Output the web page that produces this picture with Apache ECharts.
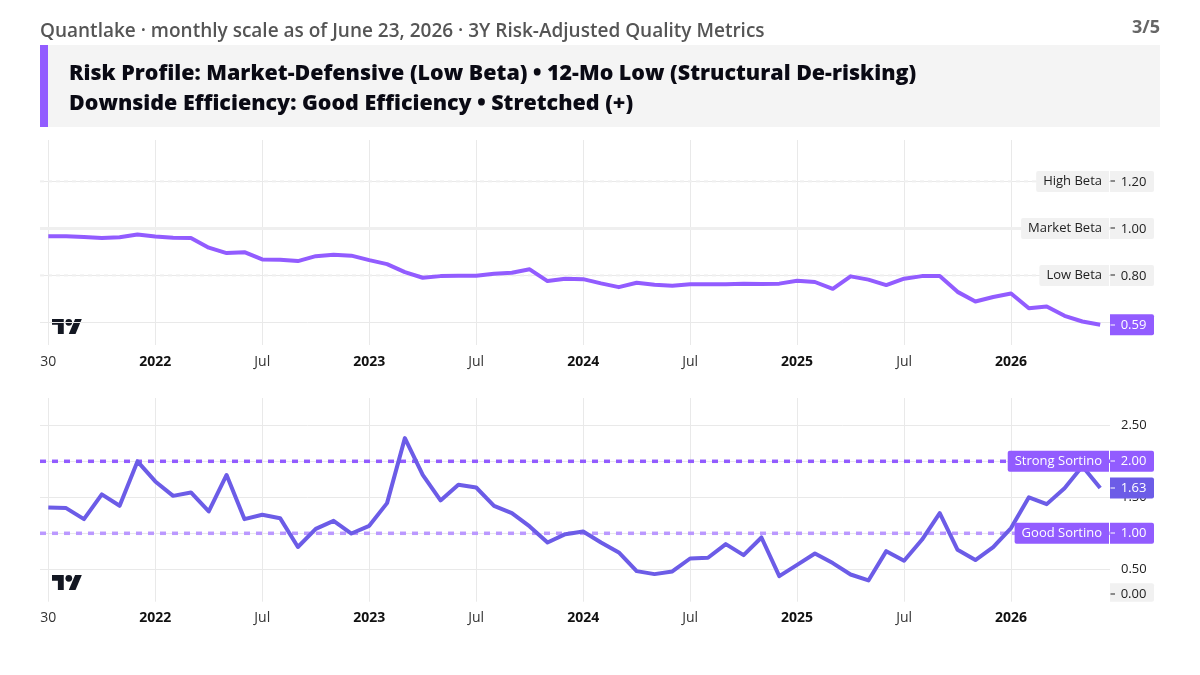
<!DOCTYPE html>
<html>
<head>
<meta charset="utf-8">
<style>
  html, body { margin: 0; padding: 0; background: #fff; }
  #chart { width: 1200px; height: 675px; }
</style>
<script src="https://cdn.jsdelivr.net/npm/echarts@6/dist/echarts.min.js"></script>
</head>
<body>
<div id="chart"></div>
<script>
// Monthly readings, July 2021 to June 2026
const betaValues = [
  0.967, 0.967, 0.963, 0.959, 0.962, 0.974, 0.966, 0.960, 0.959, 0.918,
  0.895, 0.899, 0.868, 0.867, 0.861, 0.882, 0.888, 0.884, 0.865, 0.848,
  0.814, 0.790, 0.797, 0.799, 0.799, 0.807, 0.811, 0.826, 0.776, 0.786,
  0.784, 0.766, 0.750, 0.769, 0.760, 0.756, 0.762, 0.762, 0.762, 0.765,
  0.763, 0.765, 0.777, 0.772, 0.743, 0.796, 0.782, 0.759, 0.786, 0.797,
  0.797, 0.730, 0.689, 0.708, 0.723, 0.660, 0.668, 0.628, 0.604, 0.59
];
const sortinoValues = [
  1.358, 1.350, 1.197, 1.540, 1.382, 1.998, 1.720, 1.520, 1.567, 1.303,
  1.810, 1.197, 1.257, 1.210, 0.810, 1.062, 1.173, 0.997, 1.104, 1.419,
  2.322, 1.810, 1.456, 1.674, 1.636, 1.382, 1.280, 1.095, 0.873, 0.988,
  1.025, 0.873, 0.734, 0.475, 0.433, 0.470, 0.650, 0.660, 0.850, 0.697,
  0.942, 0.405, 0.562, 0.720, 0.586, 0.428, 0.345, 0.752, 0.618, 0.910,
  1.280, 0.771, 0.628, 0.808, 1.072, 1.500, 1.405, 1.627, 1.930, 1.63
];

const tickIndexes = [0, 6, 12, 18, 24, 30, 36, 42, 48, 54];
const tickLabels = ['30', '2022', 'Jul', '2023', 'Jul', '2024', 'Jul', '2025', 'Jul', '2026'];

const betaTicks = [0.6, 0.8, 1.0, 1.2];
const sortinoTicks = [0.5, 1.0, 1.5, 2.0, 2.5];

const betaLevels = [1.2, 1.0, 0.8];
const betaLevelNames = ['High Beta', 'Market Beta', 'Low Beta'];
const sortinoLevels = [2.0, 1.0, 0.0];
const sortinoLevelNames = ['Strong Sortino', 'Good Sortino', ''];

const headerText = 'Quantlake · monthly scale as of June 23, 2026 · 3Y Risk-Adjusted Quality Metrics';
const pageText = '3/5';
const titleLines = [
  'Risk Profile: Market-Defensive (Low Beta) • 12-Mo Low (Structural De-risking)',
  'Downside Efficiency: Good Efficiency • Stretched (+)'
];

const PURPLE = '#925cff';
const PURPLE_SOFT = '#bb99ff';
const INDIGO = '#6c5ce7';
const GREY_TAG = '#f1f1f1';
const GRID = '#e9e9e9';
const FONT = '"Open Sans", "Noto Sans", sans-serif';

const X_MIN = -0.466;
const X_MAX = 59.55;

const chart = echarts.init(document.getElementById('chart'));

function xAxisFor(gridIndex, margin) {
  return {
    type: 'value', gridIndex, min: X_MIN, max: X_MAX,
    axisLine: { show: false },
    axisTick: { show: false, customValues: tickIndexes },
    splitLine: { show: true, lineStyle: { color: GRID, width: 1 } },
    axisLabel: {
      customValues: tickIndexes,
      margin,
      fontFamily: FONT, fontSize: 14, color: '#333',
      formatter: v => {
        const t = tickLabels[tickIndexes.indexOf(v)];
        return /^\d{4}$/.test(t) ? '{y|' + t + '}' : t;
      },
      rich: { y: { fontFamily: FONT, fontSize: 14, fontWeight: 700, color: '#111' } }
    }
  };
}

function yAxisFor(gridIndex, min, max, ticks) {
  return {
    type: 'value', gridIndex, min, max, position: 'right',
    axisLine: { show: false },
    axisTick: { show: false, customValues: ticks },
    splitLine: { show: true, lineStyle: { color: GRID, width: 1 } },
    axisLabel: {
      customValues: ticks, margin: 11, padding: [2, 0, 0, 0],
      fontFamily: FONT, fontSize: 13, color: '#222',
      formatter: v => v.toFixed(2)
    }
  };
}

// Horizontal reference level running across the whole pane
function levelSeries(axisIndex, value, style) {
  return {
    type: 'line', xAxisIndex: axisIndex, yAxisIndex: axisIndex, z: 1,
    symbol: 'none', silent: true, animation: false,
    data: [[X_MIN, value], [X_MAX, value]],
    lineStyle: style
  };
}

function curveSeries(axisIndex, values, color) {
  return {
    type: 'line', xAxisIndex: axisIndex, yAxisIndex: axisIndex, z: 3,
    symbol: 'none', silent: true, animation: false,
    data: values.map((v, i) => [i, v]),
    lineStyle: { color, width: 4, join: 'round', cap: 'butt' }
  };
}

// Price-scale badges: value box on the scale, optional name box beside it
function tagSeries(axisIndex, tags) {
  return {
    type: 'custom', xAxisIndex: axisIndex, yAxisIndex: axisIndex, z: 10,
    silent: true, animation: false, clip: false,
    data: tags.map(t => [X_MAX, t.value]),
    renderItem(params, api) {
      const tag = tags[params.dataIndex];
      const sys = params.coordSys;
      const left = sys.x + sys.width;
      const paneBottom = sys.y + sys.height;
      const y = Math.min(api.coord([X_MAX, api.value(1)])[1], paneBottom - 8);
      const top = y - 10.5;
      const h = Math.min(21, paneBottom - top);
      const children = [
        { type: 'rect', shape: { x: left, y: top, width: 44, height: h, r: [0, 2, 2, 0] }, style: { fill: tag.bg } },
        { type: 'rect', shape: { x: left + 0.5, y: Math.round(y) - 0.5, width: 4.5, height: 1 }, style: { fill: tag.fg } },
        { type: 'text', style: { text: tag.value.toFixed(2), x: left + 23.5, y: y + 0.5, align: 'center', verticalAlign: 'middle', fill: tag.fg, font: '13px ' + FONT } }
      ];
      if (tag.name) {
        children.unshift({
          type: 'text',
          style: {
            text: tag.name, x: left - 1, y: y, align: 'right', verticalAlign: 'middle',
            fill: tag.fg, font: '13px ' + FONT, backgroundColor: tag.bg,
            padding: [3, 7, 3, 7], lineHeight: 15, borderRadius: [2, 0, 0, 2]
          }
        });
      }
      return { type: 'group', children };
    }
  };
}

// Small brand mark in the lower-left corner of each pane
function logo(y) {
  const fill = '#131722';
  return {
    type: 'group', x: 52, y, scaleX: 0.84, scaleY: 0.84, silent: true, z: 20,
    children: [
      { type: 'polygon', shape: { points: [[0, 4], [14, 4], [14, 22], [7, 22], [7, 11], [0, 11]] }, style: { fill } },
      { type: 'polygon', shape: { points: [[20, 22], [27.5, 4], [35.5, 4], [28, 22]] }, style: { fill } },
      { type: 'circle', shape: { cx: 20, cy: 8, r: 4 }, style: { fill } }
    ]
  };
}

const option = {
  animation: false,
  backgroundColor: '#ffffff',
  grid: [
    { left: 40, right: 90, top: 140, height: 205 },
    { left: 40, right: 90, top: 398, height: 203.7 }
  ],
  xAxis: [xAxisFor(0, 10.5), xAxisFor(1, 9)],
  yAxis: [
    yAxisFor(0, 0.504, 1.376, betaTicks),
    yAxisFor(1, 0.05, 2.879, sortinoTicks)
  ],
  series: [
    levelSeries(0, betaLevels[0], { color: '#efefef', width: 2, type: [4, 4] }),
    levelSeries(0, betaLevels[1], { color: '#efefef', width: 3 }),
    levelSeries(0, betaLevels[2], { color: '#efefef', width: 2, type: [4, 4] }),
    levelSeries(1, sortinoLevels[0], { color: PURPLE, width: 3.5, type: [6, 6] }),
    levelSeries(1, sortinoLevels[1], { color: PURPLE_SOFT, width: 3.5, type: [6, 6] }),
    curveSeries(0, betaValues, PURPLE),
    curveSeries(1, sortinoValues, INDIGO),
    tagSeries(0, [
      { value: betaLevels[0], name: betaLevelNames[0], bg: GREY_TAG, fg: '#222' },
      { value: betaLevels[1], name: betaLevelNames[1], bg: GREY_TAG, fg: '#222' },
      { value: betaLevels[2], name: betaLevelNames[2], bg: GREY_TAG, fg: '#222' },
      { value: betaValues[betaValues.length - 1], name: '', bg: PURPLE, fg: '#fff' }
    ]),
    tagSeries(1, [
      { value: sortinoValues[sortinoValues.length - 1], name: '', bg: INDIGO, fg: '#fff' },
      { value: sortinoLevels[0], name: sortinoLevelNames[0], bg: PURPLE, fg: '#fff' },
      { value: sortinoLevels[1], name: sortinoLevelNames[1], bg: PURPLE, fg: '#fff' },
      { value: sortinoLevels[2], name: sortinoLevelNames[2], bg: GREY_TAG, fg: '#222' }
    ])
  ],
  graphic: [
    { type: 'text', x: 40, y: 32, silent: true, style: { text: headerText, fill: '#555', font: '600 19px ' + FONT, verticalAlign: 'middle' } },
    { type: 'text', x: 1160, y: 28, silent: true, style: { text: pageText, fill: '#666', font: '700 18px ' + FONT, align: 'right', verticalAlign: 'middle' } },
    { type: 'rect', silent: true, shape: { x: 40, y: 45, width: 1120, height: 82 }, style: { fill: '#f4f4f4' } },
    { type: 'rect', silent: true, shape: { x: 40, y: 45, width: 8, height: 82 }, style: { fill: PURPLE } },
    { type: 'text', x: 69, y: 74, silent: true, style: { text: titleLines[0], fill: '#0a0a14', font: '800 21.45px ' + FONT, verticalAlign: 'middle' } },
    { type: 'text', x: 69, y: 104, silent: true, style: { text: titleLines[1], fill: '#0a0a14', font: '800 21.45px ' + FONT, verticalAlign: 'middle' } },
    logo(315.6),
    logo(571.6)
  ]
};

chart.setOption(option);
</script>
</body>
</html>
